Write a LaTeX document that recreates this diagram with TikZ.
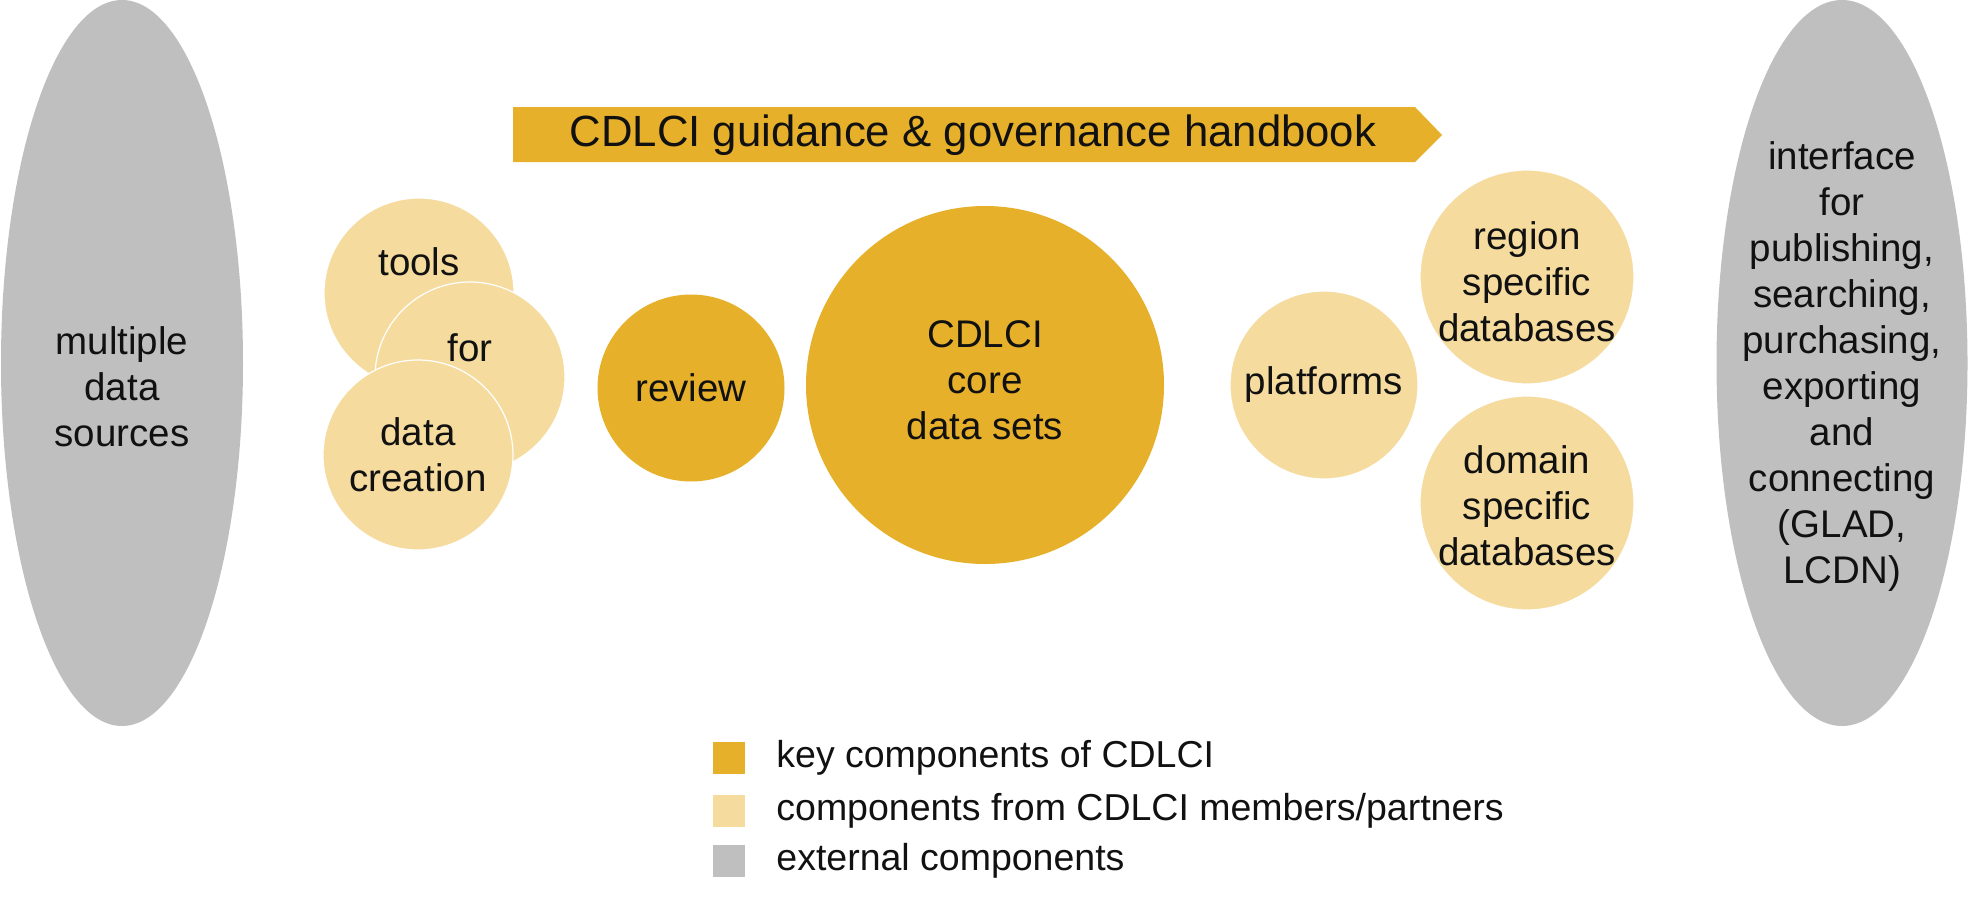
\documentclass[tikz,border=0pt]{standalone}
\usepackage{fontspec}
\setmainfont{Liberation Sans}
\usetikzlibrary{positioning,shapes.geometric}
\definecolor{keygold}{HTML}{E6B02A}
\definecolor{partnergold}{HTML}{F5DB9E}
\definecolor{extgray}{HTML}{BFBFBF}
\definecolor{inkblack}{HTML}{111111}

\begin{document}
\begin{tikzpicture}[
  x=1pt, y=-1pt,
  txt/.style={font=\fontsize{38.5}{46}\selectfont, text=inkblack, align=center, inner sep=0pt},
  key/.style={circle, fill=keygold, inner sep=0pt},
  partner/.style={circle, fill=partnergold, draw=white, line width=1.2pt, inner sep=0pt},
  external/.style={ellipse, fill=extgray, inner sep=0pt, minimum height=726pt},
  swatch/.style={minimum size=32pt, inner sep=0pt},
  legtxt/.style={txt, font=\fontsize{37.5}{44}\selectfont}
]
\useasboundingbox (0,0) rectangle (1972,907);

% outside the initiative
\node[external, minimum width=242pt, label={[txt, yshift=-24pt]center:{multiple\\data\\sources}}] (sources) at (122,363) {};
\node[external, minimum width=251pt, label={[txt, yshift=-4pt]center:{interface\\for\\publishing,\\searching,\\purchasing,\\exporting\\and\\connecting\\(GLAD,\\LCDN)}}] (interface) at (1842,363) {};

% handbook banner
\fill[keygold] (513,107) -- (1415,107) -- (1442,135) -- (1415,162) -- (513,162) -- cycle;
\node[txt, font=\fontsize{43.7}{50}\selectfont] (handbook) at (973,135) {CDLCI guidance \& governance handbook};

% tools for data creation
\node[partner, minimum size=190pt, label={[txt, yshift=31pt]center:tools}] (tools) at (419,293) {};
\node[partner, minimum size=190pt, label={[txt, yshift=29pt]center:for}] (for) at (470,377) {};
\node[partner, minimum size=190pt, label={[txt]center:{data\\creation}}] (creation) at (418,455) {};

% core
\node[key, minimum size=187pt, label={[txt]center:review}] (review) at (691,388) {};
\node[key, minimum size=358pt, label={[txt, yshift=5pt]center:{CDLCI\\core\\data sets}}] (core) at (985,385) {};

% distribution
\node[partner, minimum size=188pt, label={[txt]center:platforms}] (platforms) at (1324,385) {};
\node[partner, minimum size=214pt, label={[txt, yshift=-5pt]center:{region\\specific\\databases}}] (region) at (1527,277) {};
\node[partner, minimum size=214pt, label={[txt, yshift=-3pt]center:{domain\\specific\\databases}}] (domain) at (1527,503) {};

% legend
\node[swatch, fill=keygold] (keysq) at (729,758) {};
\node[swatch, fill=partnergold] (partnersq) at (729,811) {};
\node[swatch, fill=extgray] (extsq) at (729,861) {};
\node[legtxt, right=31pt of keysq] (keylbl) {key components of CDLCI};
\node[legtxt, right=31pt of partnersq] (partnerlbl) {components from CDLCI members/partners};
\node[legtxt, right=31pt of extsq] (extlbl) {external components};
\end{tikzpicture}
\end{document}
